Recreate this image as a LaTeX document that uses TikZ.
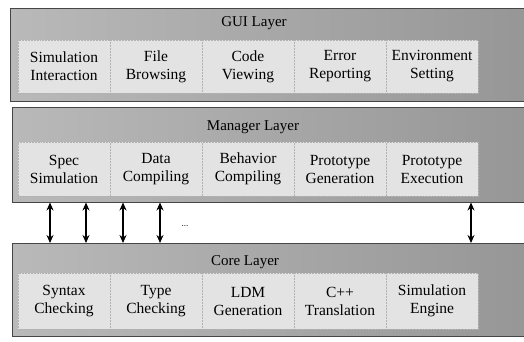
\documentclass[tikz,border=0pt]{standalone}
\usepackage{fontspec}
\setmainfont{Liberation Serif}
\usetikzlibrary{arrows.meta,calc}
\begin{document}
\begin{tikzpicture}[x=1pt,y=-1pt,
  layerband/.style={anchor=north west, inner sep=0pt, minimum width=514pt,
    draw=gray!55!black, line width=0.5pt,
    left color=gray!55, middle color=gray!48, right color=gray!82},
  layertitle/.style={font=\fontsize{15}{17}\selectfont, inner sep=1pt},
  modbox/.style={minimum width=92pt, inner sep=1pt, align=center,
    fill=gray!22, draw=gray!60, densely dotted, line width=0.5pt,
    font=\fontsize{15.5}{18}\selectfont},
  link/.style={{Stealth[length=8pt,width=7pt]}-{Stealth[length=8pt,width=7pt]}, line width=1.2pt}]

% page
\fill[white] (0,0) rectangle (524,341);
\useasboundingbox (0,0) rectangle (524,341);

% layer bands
\node[layerband, minimum height=93pt] (gui)  at (10,8)   {};
\node[layerband, minimum height=95pt] (mgr)  at (12,107) {};
\node[layerband, minimum height=93pt] (core) at (12,243) {};

% layer titles
\node[layertitle] (guit)  at (254,23)  {GUI Layer};
\node[layertitle] (mgrt)  at (253,127) {Manager Layer};
\node[layertitle] (coret) at (245,262) {Core Layer};

% GUI layer modules
\begin{scope}[every node/.style={modbox, minimum height=53pt}]
\node (g1) at (64,66.5)  {Simulation\\Interaction};
\node (g2) at (156,66.5) {File\\Browsing};
\node (g3) at (248,66.5) {Code\\Viewing};
\node (g4) at (340,66.5) {Error\\Reporting};
\node (g5) at (432,66.5) {Environment\\Setting};
\end{scope}

% Manager layer modules
\begin{scope}[every node/.style={modbox, minimum height=54pt}]
\node (m1) at (64,169)  {Spec\\Simulation};
\node (m2) at (156,169) {Data\\Compiling};
\node (m3) at (248,169) {Behavior\\Compiling};
\node (m4) at (340,169) {Prototype\\Generation};
\node (m5) at (432,169) {Prototype\\Execution};
\end{scope}

% Core layer modules
\begin{scope}[every node/.style={modbox, minimum height=56pt}]
\node (c1) at (64,301)  {Syntax\\Checking};
\node (c2) at (156,301) {Type\\Checking};
\node (c3) at (248,301) {LDM\\Generation};
\node (c4) at (340,301) {C++\\Translation};
\node (c5) at (432,301) {Simulation\\Engine};
\end{scope}

% links between manager and core layers
\coordinate (xa) at (50,0);
\coordinate (xb) at (86,0);
\coordinate (xc) at (123,0);
\coordinate (xd) at (160,0);
\coordinate (xe) at (471,0);
\draw[link] (mgr.south -| xa) -- (core.north -| xa);
\draw[link] (mgr.south -| xb) -- (core.north -| xb);
\draw[link] (mgr.south -| xc) -- (core.north -| xc);
\draw[link] (mgr.south -| xd) -- (core.north -| xd);
\draw[link] (mgr.south -| xe) -- (core.north -| xe);
\node[font=\fontsize{9}{10}\selectfont, inner sep=0pt] (dots) at (185,226) {...};
\end{tikzpicture}
\end{document}
